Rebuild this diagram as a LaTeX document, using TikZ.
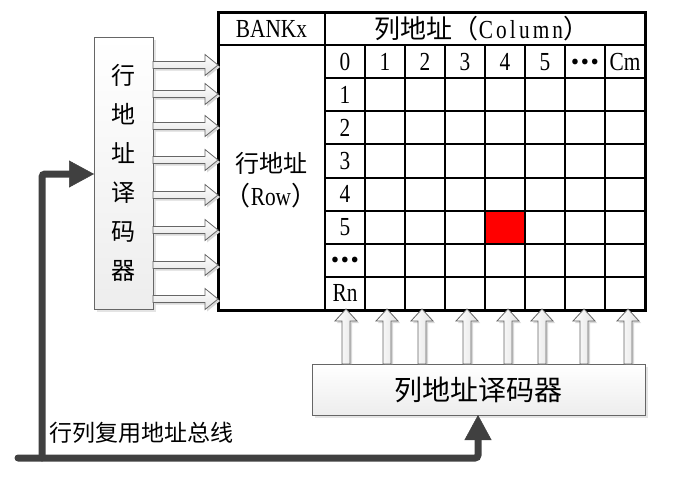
\documentclass[tikz,border=0pt]{standalone}
\usepackage{fontspec}
\setmainfont{Liberation Serif}[FakeStretch=0.82]
\newfontfamily\cjk{Noto Sans CJK SC}
\usetikzlibrary{arrows.meta,shadows}
\definecolor{busgray}{HTML}{404040}
\definecolor{outl}{HTML}{666666}
\newcommand{\mydots}{{\cjk\bfseries …}}
\tikzset{
  grid thick/.style={line width=3pt},
  grid thin/.style={line width=2pt},
  decbox/.style={draw=outl, line width=1pt, top color=white, bottom color=gray!14,
    drop shadow={shadow xshift=3pt, shadow yshift=-3pt, fill=gray!35, opacity=0.6},
    inner sep=0pt, outer sep=0pt},
  lbl/.style={font=\fontsize{26pt}{30pt}\selectfont, inner sep=0pt},
  clbl/.style={font=\cjk\fontsize{24pt}{28pt}\selectfont, inner sep=0pt},
  bus/.style={line width=7pt, draw=busgray, line cap=round, rounded corners=3pt,
    -{Triangle[length=25pt,width=27pt,line width=0.5pt]}},
  rarrow/.pic={
    \fill[gray!30] (2,-1.5) -- (54,-1.5) -- (54,-8.5) -- (67,2) -- (54,12.5) -- (54,5.5) -- (2,5.5) -- cycle;
    \draw[draw=outl, line width=0.8pt, top color=white, bottom color=gray!22]
      (0,-3.5) -- (52,-3.5) -- (52,-10.5) -- (65,0) -- (52,10.5) -- (52,3.5) -- (0,3.5) -- cycle;
  },
  uarrow/.pic={
    \fill[gray!30] (-2,0) -- (-2,-41) -- (-9,-41) -- (2,-53) -- (13,-41) -- (6,-41) -- (6,0) -- cycle;
    \draw[draw=outl, line width=0.8pt, left color=white, right color=gray!22]
      (-4,0) -- (-4,-43) -- (-11,-43) -- (0,-55) -- (11,-43) -- (4,-43) -- (4,0) -- cycle;
  },
}
\begin{document}
\begin{tikzpicture}[x=1pt,y=-1pt]
\useasboundingbox (0,0) rectangle (676,480);
% red cell
\fill[red] (485,210.625) rectangle (525,243.75);
% grid lines
\draw[grid thin] (218,45) -- (645,45);
\draw[grid thin] (325,12) -- (325,310);
\foreach \k in {1,...,7} {
  \draw[grid thin] (325,{45+33.125*\k}) -- (645,{45+33.125*\k});
  \draw[grid thin] ({325+40*\k},45) -- ({325+40*\k},310);
}
\draw[grid thick] (218,12) rectangle (645,310);
% header texts
\node[lbl] (bankx) at (271.5,28.5) {BANKx};
\node[lbl] (colhdr) at (482,28.5) {{\cjk 列地址（}{\addfontfeature{LetterSpace=12}Column}{\cjk ）}};
\foreach \i/\t in {0/0,1/1,2/2,3/3,4/4,5/5,6/\mydots,7/Cm} {
  \node[lbl] (c\i) at ({345+40*\i},62) {\t};
}
\foreach \i/\t in {1/1,2/2,3/3,4/4,5/5,6/\mydots,7/Rn} {
  \node[lbl] (r\i) at (345,{45+33.125*(\i+0.5)}) {\t};
}
\node[clbl] (rowlbl) at (271,163) {行地址};
\node[lbl] (rowlbl2) at (271,196) {{\cjk （}Row{\cjk ）}};
% decoders
\node[decbox, minimum width=59pt, minimum height=272pt, anchor=north west] (rowdec) at (94,37) {};
\node[inner sep=0pt, align=center, font=\cjk\fontsize{24pt}{39pt}\selectfont] (rowdectext) at (rowdec) {行\\地\\址\\译\\码\\器};
\node[decbox, minimum width=333pt, minimum height=51pt, anchor=north west] (coldec) at (312,364) {};
\node[inner sep=0pt, font=\cjk\fontsize{28pt}{32pt}\selectfont] (coldectext) at (coldec) {列地址译码器};
% block arrows
\foreach \y in {65,94,126,160,195,230,265,299} {
  \pic at (rowdec.east |- 0,\y) {rarrow};
}
\foreach \x in {346,387,422,467,508,542,584,628} {
  \pic at (\x,0 |- coldec.north) {uarrow};
}
% bus
\coordinate (busstart) at (18,458);
\coordinate (bcorner) at (478,458);
\coordinate (bj) at (42,458);
\coordinate (bk) at (42,174);
\draw[bus] (busstart) -- (bcorner) -- (bcorner |- coldec.south);
\draw[bus] (bj) -- (bk) -- (bk -| rowdec.west);
\node[inner sep=0pt, anchor=west, font=\cjk\fontsize{23pt}{26pt}\selectfont] (buslabel) at (49,433) {行列复用地址总线};
\end{tikzpicture}
\end{document}
